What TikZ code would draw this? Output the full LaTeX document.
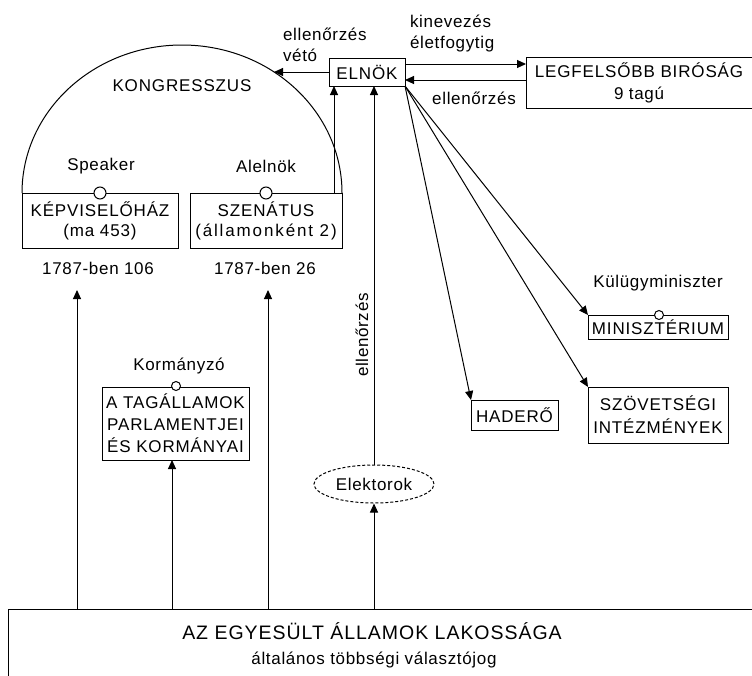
\documentclass[tikz,border=0pt]{standalone}
\usepackage{fontspec}
\setmainfont{Liberation Sans}[LetterSpace=4]
\newfontfamily\capsf{Liberation Sans}[LetterSpace=5]
\usetikzlibrary{arrows.meta,shapes.geometric}
\begin{document}
\begin{tikzpicture}[x=1pt,y=-1pt,line width=1pt,
  box/.style={draw,rectangle,inner sep=0pt,outer sep=0pt,align=center,font=\fontsize{17}{20}\capsf},
  lbl/.style={inner sep=0pt,outer sep=0pt,font=\fontsize{17}{21}\selectfont},
  arr/.style={-{Triangle[length=9pt,width=8pt]}},
  knob/.style={circle,draw,fill=white,inner sep=0pt,minimum size=12pt,line width=1pt}]
\useasboundingbox (0,0) rectangle (752,675);
\fill[white] (0,0) rectangle (752,675);

% Congress dome
\draw (22,193) arc[start angle=180,end angle=360,x radius=160,y radius=148];
\node[inner sep=0pt,font=\fontsize{17}{20}\capsf] (kong) at (182,86) {KONGRESSZUS};

% chambers
\node[box,minimum width=156pt,minimum height=55pt] (house) at (100,220.5) {KÉPVISELŐHÁZ\\(ma 453)};
\node[box,minimum width=152pt,minimum height=55pt] (senate) at (266,220.5) {SZENÁTUS\\{\addfontfeature{LetterSpace=11}(államonként 2)}};
\node[knob] (spk) at (100,193) {};
\node[knob] (vp) at (266,193) {};
\node[lbl] (spkl) at (101,166) {Speaker};
\node[lbl] (vpl) at (266,166) {Alelnök};
\node[lbl] (n106) at (98,268) {1787-ben 106};
\node[lbl] (n26) at (265,268) {1787-ben 26};

% president and court
\node[box,minimum width=76pt,minimum height=28pt] (elnok) at (367,72) {ELNÖK};
\node[box,minimum width=226pt,minimum height=51pt,font=\fontsize{17}{22}\capsf] (court) at (639,82.5) {LEGFELSŐBB BIRÓSÁG\\{\rmfamily 9 tagú}};
\draw[arr] ([yshift=8pt]elnok.east) -- ([yshift=8pt]elnok.east -| court.west);
\draw[arr] ([yshift=-8pt]elnok.east -| court.west) -- ([yshift=-8pt]elnok.east);
\node[lbl,anchor=west] (kin) at (410,21) {kinevezés};
\node[lbl,anchor=west] (elet) at (410,44) {életfogytig};
\node[lbl] (ctl2) at (474,98) {ellenőrzés};

% veto
\coordinate (vetoend) at (274,72);
\draw[arr] (elnok.west) -- (vetoend);
\node[lbl,anchor=west] (ctl1) at (283,34) {ellenőrzés};
\node[lbl,anchor=west] (veto) at (283,55) {vétó};

% senate -> president
\coordinate (s1) at (334,193);
\draw[arr] (s1) -- (s1 |- elnok.south);

% executive boxes
\node[box,minimum width=87pt,minimum height=30pt] (hadero) at (514.5,415) {HADERŐ};
\node[box,minimum width=140pt,minimum height=24pt] (minisz) at (658,327) {MINISZTÉRIUM};
\node[box,minimum width=140pt,minimum height=56pt,font=\fontsize{17}{23}\capsf] (szov) at (658,415) {SZÖVETSÉGI\\INTÉZMÉNYEK};
\node[knob,minimum size=9pt] (fm) at (659,315) {};
\node[lbl] (fml) at (658,283) {Külügyminiszter};
\draw[arr] (elnok.south east) -- (hadero.north west);
\draw[arr] (elnok.south east) -- (minisz.north west);
\draw[arr] (elnok.south east) -- (szov.north west);

% states
\node[box,minimum width=147pt,minimum height=73pt,font=\fontsize{17}{22}\capsf] (tagall) at (175.5,423.5) {A TAGÁLLAMOK\\PARLAMENTJEI\\ÉS KORMÁNYAI};
\node[knob,minimum size=9pt] (gov) at (176,386) {};
\node[lbl] (govl) at (179,366) {Kormányzó};

% electors
\node[ellipse,draw,dash pattern=on 3pt off 2pt,line width=1pt,minimum width=120pt,minimum height=38pt,inner sep=0pt,font=\fontsize{17}{20}\selectfont] (elekt) at (374,484) {Elektorok};
\draw[arr] (elekt.north) -- (elekt.north |- elnok.south);
\node[lbl,rotate=90] (ctl3) at (362,335) {ellenőrzés};

% population
\node[draw,rectangle,inner sep=0pt,minimum width=762pt,minimum height=82pt] (pop) at (389,650) {};
\node[inner sep=0pt,font=\fontsize{19.5}{22}\capsf] (popt) at (372,631) {AZ EGYESÜLT ÁLLAMOK LAKOSSÁGA};
\node[inner sep=0pt,font=\fontsize{17}{20}\selectfont] (pops) at (374,660) {általános többségi választójog};

\coordinate (t1) at (77,290);
\coordinate (t2) at (268,290);
\coordinate (t3) at (172,460);
\draw[arr] (t1 |- pop.north) -- (t1);
\draw[arr] (t2 |- pop.north) -- (t2);
\draw[arr] (t3 |- pop.north) -- (t3 |- tagall.south);
\draw[arr] (elekt.south |- pop.north) -- (elekt.south);
\end{tikzpicture}
\end{document}
